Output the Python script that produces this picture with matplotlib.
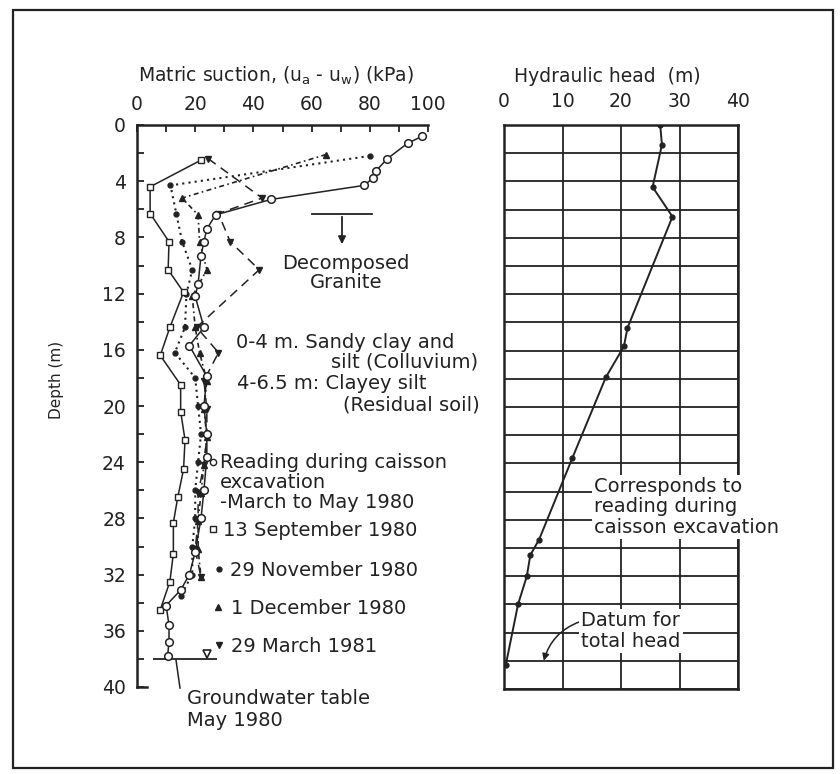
import matplotlib
matplotlib.use("Agg")
import matplotlib.pyplot as plt
from matplotlib.lines import Line2D
from matplotlib.patches import Rectangle

plt.rcParams['font.family'] = ['DejaVu Sans']

# ---------------- data ----------------
# Matric suction profiles (depth in m, suction in kPa)
caisson_depth = [0.8, 1.3, 2.4, 3.3, 3.8, 4.3, 5.3, 6.4, 7.4, 8.3, 9.3, 11.3, 12.2, 14.4, 15.7,
                 17.9, 20.0, 22.0, 23.6, 26.0, 28.0, 30.4, 32.0, 33.1, 34.2, 35.6, 36.8, 37.8]
caisson_suction = [98, 93, 86, 82, 81, 78, 46, 27, 24, 23, 22, 21, 20, 23, 18,
                   24, 23, 24, 24, 23, 22, 20, 18, 15, 10, 11, 11, 10.5]

sep80_depth = [2.5, 4.4, 6.3, 8.3, 10.3, 11.9, 14.4, 16.4, 18.5, 20.4, 22.4, 24.5, 26.5,
               28.3, 30.5, 32.5, 34.5]
sep80_suction = [22, 4.5, 4.5, 11, 10.7, 16, 11.3, 8, 15, 15, 16.5, 16, 14, 12.5, 12.5, 11.3, 8]

nov80_depth = [2.2, 4.3, 6.3, 8.3, 10.3, 12.0, 14.4, 16.2, 18.0, 20.0, 22.0, 24.0, 26.0,
               28.0, 30.0, 32.0, 33.5]
nov80_suction = [80, 11.5, 13.5, 15.5, 19, 17, 16.5, 13, 20, 21, 22, 21, 20, 20, 19, 19, 15]

dec80_depth = [2.1, 5.2, 6.4, 8.3, 10.3, 12.2, 14.4, 16.2, 18.2, 20.2, 22.2, 24.2, 26.2,
               28.2, 30.2, 32.2]
dec80_suction = [65, 15.5, 21, 21.5, 24, 19, 20, 21.5, 24, 23, 24, 23, 22, 21, 21, 22]

mar81_depth = [2.4, 5.2, 6.3, 8.3, 10.3, 14.4, 16.2, 18.2, 20.2, 22.2, 24.2, 26.2, 28.2,
               30.2, 32.2]
mar81_suction = [24.5, 43, 28, 32, 42, 20.5, 28, 23, 24, 24, 23, 21, 21, 20, 22]

# Hydraulic head profile (caisson excavation reading)
head_depth = [0, 1.4, 4.4, 6.5, 14.4, 15.7, 17.9, 23.6, 29.4, 30.5, 32.0, 34.0, 38.3]
head_value = [26.7, 27.0, 25.4, 28.8, 21.1, 20.5, 17.4, 11.7, 6.0, 4.5, 3.9, 2.4, 0.3]

suction_ticks = [0, 10, 20, 30, 40, 50, 60, 70, 80, 90, 100]
suction_labels = ['0', '', '20', '', '40', '', '60', '', '80', '', '100']
depth_ticks = [0, 4, 8, 12, 16, 20, 24, 28, 32, 36, 40]
head_ticks = [0, 10, 20, 30, 40]

gw_depth = 38.0
gw_extent = (5.5, 27.5)
gw_symbol_x = 24.0
datum_depth = 38.0
datum_head = 6.8

legend_labels = ['Reading during caisson\nexcavation\n-March to May 1980',
                 '13 September 1980', '29 November 1980', '1 December 1980',
                 '29 March 1981']

# ---------------- figure ----------------
W, H = 840, 774
fig = plt.figure(figsize=(W / 100, H / 100), dpi=100)
fig.patch.set_facecolor('white')


def fx(x):
    return x / W


def fy(y):
    return 1 - y / H


# outer border
fig.add_artist(Rectangle((fx(13), fy(768)), fx(833) - fx(13), fy(10) - fy(768),
                         transform=fig.transFigure, fill=False, lw=1.6, ec='#222222'))

# ---------- left panel: matric suction ----------
axL = fig.add_axes([fx(137), fy(687), fx(428) - fx(137), fy(125) - fy(687)])
axL.set_xlim(0, 100)
axL.set_ylim(40, 0)
axL.spines['right'].set_visible(False)
axL.spines['bottom'].set_bounds(0, 3.5)
for s in ['left', 'top', 'bottom']:
    axL.spines[s].set_linewidth(1.8)
    axL.spines[s].set_color('#222222')
axL.xaxis.tick_top()
axL.set_xticks(suction_ticks)
axL.set_xticklabels(suction_labels)
axL.set_yticks(depth_ticks)
axL.set_yticks(list(range(2, 40, 4)), minor=True)
axL.tick_params(axis='x', direction='in', length=5, width=1.3, pad=8, labelsize=13.5,
                colors='#222222', bottom=False)
axL.tick_params(axis='y', which='both', direction='in', length=5, width=1.3, pad=8,
                labelsize=13.5, colors='#222222', right=False)
axL.tick_params(axis='y', which='minor', labelleft=False)

lc = '#222222'
axL.plot(caisson_suction, caisson_depth, '-o', color=lc, lw=1.1, ms=5.5,
         mfc='white', mec=lc, mew=1.1, zorder=5)
axL.plot(sep80_suction, sep80_depth, '-s', color=lc, lw=1.1, ms=4.5,
         mfc='white', mec=lc, mew=1.0, zorder=4)
axL.plot(nov80_suction, nov80_depth, linestyle=(0, (1, 2)), marker='o', color=lc,
         lw=1.5, ms=3.5, mfc=lc, mec=lc, zorder=3)
axL.plot(dec80_suction, dec80_depth, linestyle=(0, (3, 2, 1, 2)), marker='^', color=lc,
         lw=1.2, ms=4.5, mfc=lc, mec=lc, zorder=3)
axL.plot(mar81_suction, mar81_depth, linestyle=(0, (6, 4)), marker='v', color=lc,
         lw=1.1, ms=4.5, mfc=lc, mec=lc, zorder=3)

# groundwater table
axL.hlines(gw_depth, gw_extent[0], gw_extent[1], color=lc, lw=1.3)
axL.plot([gw_symbol_x], [gw_depth - 0.35], marker='v', ms=6, mfc='white', mec=lc,
         mew=1.2, ls='none')
fig.add_artist(Line2D([fx(176), fx(180)], [fy(660), fy(688)], transform=fig.transFigure,
                      color=lc, lw=1.1))

# Decomposed granite boundary symbol
fig.add_artist(Line2D([fx(312), fx(372)], [fy(214), fy(214)], transform=fig.transFigure,
                      color=lc, lw=1.3))
axL.annotate('', xy=(fx(342), fy(247)), xytext=(fx(342), fy(214)),
             xycoords='figure fraction', textcoords='figure fraction',
             arrowprops=dict(arrowstyle='-|>', color=lc, lw=1.3, mutation_scale=11))

tkw = dict(color='#222222', fontsize=14)
fig.text(fx(346), fy(273), 'Decomposed\nGranite', ha='center', va='center',
         multialignment='center', linespacing=1.0, **tkw)
fig.text(fx(236), fy(342), '0-4 m. Sandy clay and', ha='left', va='center', **tkw)
fig.text(fx(478), fy(362), 'silt (Colluvium)', ha='right', va='center', **tkw)
fig.text(fx(237), fy(383), '4-6.5 m: Clayey silt', ha='left', va='center', **tkw)
fig.text(fx(480), fy(405), '(Residual soil)', ha='right', va='center', **tkw)

# legend entries
fig.text(fx(220), fy(463), 'Reading during caisson', ha='left', va='center', **tkw)
fig.text(fx(220), fy(483), 'excavation', ha='left', va='center', **tkw)
fig.text(fx(220), fy(503), '-March to May 1980', ha='left', va='center', **tkw)
fig.text(fx(223), fy(530), legend_labels[1], ha='left', va='center', **tkw)
fig.text(fx(230), fy(570), legend_labels[2], ha='left', va='center', **tkw)
fig.text(fx(231), fy(608), legend_labels[3], ha='left', va='center', **tkw)
fig.text(fx(231), fy(647), legend_labels[4], ha='left', va='center', **tkw)
sw = [((213, 462), 'o', 'white', 4.5), ((213, 529), 's', 'white', 4),
      ((219, 569), 'o', lc, 3.5), ((218, 607), '^', lc, 5), ((219, 645), 'v', lc, 5)]
for (px, py), m, fc, ms in sw:
    fig.add_artist(Line2D([fx(px)], [fy(py)], transform=fig.transFigure, marker=m,
                          ms=ms, mfc=fc, mec=lc, mew=1.0, ls='none'))

fig.text(fx(187), fy(698), 'Groundwater table', ha='left', va='center', **tkw)
fig.text(fx(187), fy(720), 'May 1980', ha='left', va='center', **tkw)

fig.text(fx(276), fy(76), 'Matric suction, (u$_\\mathregular{a}$ - u$_\\mathregular{w}$) (kPa)',
         ha='center', va='center', color='#222222', fontsize=13.5)
fig.text(fx(57), fy(380), 'Depth (m)', rotation=90, ha='center', va='center',
         color='#222222', fontsize=11)

# ---------- right panel: hydraulic head ----------
axR = fig.add_axes([fx(504), fy(689), fx(738) - fx(504), fy(125) - fy(689)])
axR.set_xlim(0, 40)
axR.set_ylim(40, 0)
axR.xaxis.tick_top()
axR.set_xticks(head_ticks)
axR.set_yticks(list(range(0, 41, 2)))
axR.tick_params(axis='x', length=0, pad=10, labelsize=13.5, colors='#222222')
axR.tick_params(axis='y', length=0, labelleft=False)
axR.grid(True, color='#222222', lw=1.3)
for s in axR.spines.values():
    s.set_linewidth(1.8)
    s.set_color('#222222')
axR.plot(head_value, head_depth, '-o', color=lc, lw=1.4, ms=3.5, mfc=lc, mec=lc, zorder=5)

fig.text(fx(607), fy(76), 'Hydraulic head  (m)', ha='center', va='center',
         color='#222222', fontsize=13.5)

bkw = dict(boxstyle='square,pad=0.12', fc='white', ec='none')
fig.text(fx(594), fy(507), 'Corresponds to\nreading during\ncaisson excavation',
         ha='left', va='center', linespacing=1.1, bbox=bkw, zorder=6, **tkw)
fig.text(fx(581), fy(631), 'Datum for\ntotal head', ha='left', va='center',
         linespacing=1.1, bbox=bkw, zorder=6, **tkw)
axR.annotate('', xy=(datum_head, datum_depth), xytext=(fx(579), fy(622)),
             xycoords='data', textcoords='figure fraction',
             arrowprops=dict(arrowstyle='-|>', color=lc, lw=1.1, mutation_scale=10,
                             connectionstyle='arc3,rad=0.25', shrinkA=0, shrinkB=0))

fig.savefig('out.png', dpi=100, facecolor='white')
